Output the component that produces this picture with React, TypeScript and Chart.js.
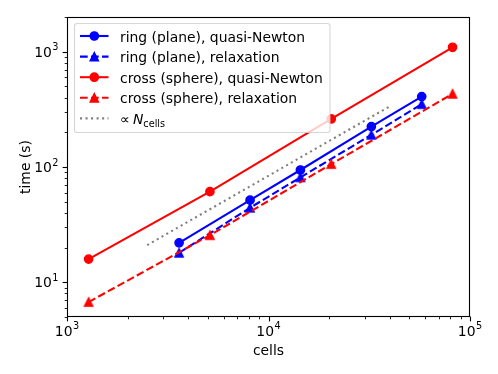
import React, { useEffect, useRef } from 'react';
import { Chart, registerables } from 'chart.js';

Chart.register(...registerables);

// ---- data ----
const ringCells = [3600, 8100, 14400, 32400, 57600];
const ringQuasiNewton = [22.0, 51.6, 94.2, 224, 408];
const ringRelaxation = [18.0, 44.3, 81.3, 190, 351];
const crossCells = [1280, 5120, 20480, 81920];
const crossQuasiNewton = [15.9, 61.1, 261, 1092];
const crossRelaxation = [6.74, 25.6, 106, 431];
const refCells = [2500, 40000];
const refTime = [21, 336];

const xLimits = [1000, 100000];
const yLimits = [5, 2000];
const xTickExponents = [3, 4, 5];
const yTickExponents = [1, 2, 3];

const legendLabels = [
  'ring (plane), quasi-Newton',
  'ring (plane), relaxation',
  'cross (sphere), quasi-Newton',
  'cross (sphere), relaxation',
];
const xTitle = 'cells';
const yTitle = 'time (s)';

const BLUE = '#0000ff';
const RED = '#ff0000';
const GRAY = '#808080';
const FONT = '"DejaVu Sans", sans-serif';
const FS = 13.9;
const LW = 2.08;
const DASH = [7.7, 3.3];
const DOT = [2.08, 3.44];
const MS = 4.15; // half marker size

function makeTriangle(color: string): HTMLCanvasElement {
  const c = document.createElement('canvas');
  c.width = 14;
  c.height = 14;
  const g = c.getContext('2d')!;
  g.fillStyle = color;
  g.strokeStyle = color;
  g.lineWidth = 1.39;
  g.lineJoin = 'miter';
  g.beginPath();
  g.moveTo(7, 7 - MS);
  g.lineTo(7 - MS, 7 + MS);
  g.lineTo(7 + MS, 7 + MS);
  g.closePath();
  g.fill();
  g.stroke();
  return c;
}

function zip(xs: number[], ys: number[]) {
  return xs.map((x, i) => ({ x, y: ys[i] }));
}

function drawPow(ctx: CanvasRenderingContext2D, exp: string, x: number, baseline: number, align: 'center' | 'right') {
  ctx.font = `${FS}px ${FONT}`;
  const wb = ctx.measureText('10').width;
  const sfs = FS * 0.7;
  ctx.font = `${sfs}px ${FONT}`;
  const ws = ctx.measureText(exp).width;
  const total = wb + ws + 0.5;
  const left = align === 'center' ? x - total / 2 : x - total;
  ctx.textAlign = 'left';
  ctx.textBaseline = 'alphabetic';
  ctx.font = `${FS}px ${FONT}`;
  ctx.fillText('10', left, baseline);
  ctx.font = `${sfs}px ${FONT}`;
  ctx.fillText(exp, left + wb + 0.5, baseline - 6.7);
}

const mplPlugin = {
  id: 'mplDecor',
  afterDatasetsDraw(chart: any) {
    const ctx: CanvasRenderingContext2D = chart.ctx;
    const a = chart.chartArea;
    const xs = chart.scales.x;
    const ys = chart.scales.y;
    ctx.save();
    // ticks
    ctx.strokeStyle = '#000';
    const L = Math.round(a.left) + 0.5;
    const R = Math.round(a.right) - 0.5;
    const T = Math.round(a.top) + 0.5;
    const B = Math.round(a.bottom) - 0.5;
    for (let d = 3; d <= 5; d++) {
      for (let k = 1; k <= 9; k++) {
        const v = k * Math.pow(10, d);
        if (v < xLimits[0] || v > xLimits[1]) continue;
        const px = Math.round(xs.getPixelForValue(v)) + 0.5;
        const major = k === 1;
        ctx.lineWidth = major ? 1.1 : 0.85;
        ctx.beginPath();
        ctx.moveTo(px, B);
        ctx.lineTo(px, B + (major ? 4.9 : 2.8));
        ctx.stroke();
      }
    }
    for (let d = 0; d <= 3; d++) {
      for (let k = 1; k <= 9; k++) {
        const v = k * Math.pow(10, d);
        if (v < yLimits[0] || v > yLimits[1]) continue;
        const py = Math.round(ys.getPixelForValue(v)) + 0.5;
        const major = k === 1;
        ctx.lineWidth = major ? 1.1 : 0.85;
        ctx.beginPath();
        ctx.moveTo(L, py);
        ctx.lineTo(L - (major ? 4.9 : 2.8), py);
        ctx.stroke();
      }
    }
    // frame
    ctx.lineWidth = 1.1;
    ctx.strokeStyle = '#000';
    ctx.strokeRect(L, T, R - L, B - T);

    // tick labels
    ctx.fillStyle = '#000';
    xTickExponents.forEach((e) => {
      const px = xs.getPixelForValue(Math.pow(10, e));
      drawPow(ctx, String(e), px, a.bottom + 18.5, 'center');
    });
    yTickExponents.forEach((e) => {
      const py = ys.getPixelForValue(Math.pow(10, e));
      drawPow(ctx, String(e), a.left - 8.5, py + 5.2, 'right');
    });

    // axis titles
    ctx.font = `${FS}px ${FONT}`;
    ctx.textAlign = 'center';
    ctx.textBaseline = 'alphabetic';
    ctx.fillText(xTitle, (a.left + a.right) / 2, 354.5);
    ctx.save();
    ctx.translate(29.5, (a.top + a.bottom) / 2);
    ctx.rotate(-Math.PI / 2);
    ctx.fillText(yTitle, 0, 0);
    ctx.restore();

    // legend
    ctx.font = `${FS}px ${FONT}`;
    let maxW = 0;
    legendLabels.forEach((t) => {
      maxW = Math.max(maxW, ctx.measureText(t).width);
    });
    const bx = 74.5;
    const by = 23.5;
    const bw = Math.max(255.5, 120 + maxW + 6 - bx);
    const bh = 109;
    const r = 2.8;
    ctx.beginPath();
    ctx.moveTo(bx + r, by);
    ctx.lineTo(bx + bw - r, by);
    ctx.quadraticCurveTo(bx + bw, by, bx + bw, by + r);
    ctx.lineTo(bx + bw, by + bh - r);
    ctx.quadraticCurveTo(bx + bw, by + bh, bx + bw - r, by + bh);
    ctx.lineTo(bx + r, by + bh);
    ctx.quadraticCurveTo(bx, by + bh, bx, by + bh - r);
    ctx.lineTo(bx, by + r);
    ctx.quadraticCurveTo(bx, by, bx + r, by);
    ctx.closePath();
    ctx.fillStyle = 'rgba(255,255,255,0.8)';
    ctx.fill();
    ctx.strokeStyle = 'rgba(204,204,204,0.8)';
    ctx.lineWidth = 1.1;
    ctx.stroke();

    const entries = [
      { color: BLUE, dash: [] as number[], marker: 'circle' },
      { color: BLUE, dash: DASH, marker: 'triangle' },
      { color: RED, dash: [] as number[], marker: 'circle' },
      { color: RED, dash: DASH, marker: 'triangle' },
      { color: GRAY, dash: DOT, marker: '' },
    ];
    entries.forEach((en, i) => {
      const y = 36 + i * 20.6;
      ctx.save();
      ctx.strokeStyle = en.color;
      ctx.lineWidth = LW;
      ctx.setLineDash(en.dash);
      ctx.beginPath();
      ctx.moveTo(80, y);
      ctx.lineTo(108.5, y);
      ctx.stroke();
      ctx.restore();
      ctx.fillStyle = en.color;
      ctx.strokeStyle = en.color;
      ctx.lineWidth = 1.39;
      if (en.marker === 'circle') {
        ctx.beginPath();
        ctx.arc(94.3, y, MS, 0, Math.PI * 2);
        ctx.fill();
        ctx.stroke();
      } else if (en.marker === 'triangle') {
        ctx.beginPath();
        ctx.moveTo(94.3, y - MS);
        ctx.lineTo(94.3 - MS, y + MS);
        ctx.lineTo(94.3 + MS, y + MS);
        ctx.closePath();
        ctx.fill();
        ctx.stroke();
      }
      ctx.fillStyle = '#000';
      ctx.textAlign = 'left';
      ctx.textBaseline = 'alphabetic';
      ctx.font = `${FS}px ${FONT}`;
      if (i < legendLabels.length) {
        ctx.fillText(legendLabels[i], 120, y + 5.5);
      } else {
        let cx = 120;
        ctx.fillText('\u221D', cx, y + 5.5);
        cx += ctx.measureText('\u221D').width + 3;
        ctx.font = `italic ${FS}px ${FONT}`;
        ctx.fillText('N', cx, y + 5.5);
        cx += ctx.measureText('N').width;
        ctx.font = `${FS * 0.7}px ${FONT}`;
        ctx.fillText('cells', cx, y + 5.5 + 2.8);
      }
    });
    ctx.restore();
  },
};

export default function App() {
  const ref = useRef<HTMLCanvasElement | null>(null);
  useEffect(() => {
    document.body.style.margin = '0';
    const blueTri = makeTriangle(BLUE);
    const redTri = makeTriangle(RED);
    const chart = new Chart(ref.current!, {
      type: 'scatter',
      data: {
        datasets: [
          {
            label: legendLabels[0],
            data: zip(ringCells, ringQuasiNewton),
            showLine: true,
            borderColor: BLUE,
            backgroundColor: BLUE,
            borderWidth: LW,
            pointStyle: 'circle',
            pointRadius: MS,
            pointBorderWidth: 1.39,
            pointBorderColor: BLUE,
            pointBackgroundColor: BLUE,
            order: 4,
          },
          {
            label: legendLabels[1],
            data: zip(ringCells, ringRelaxation),
            showLine: true,
            borderColor: BLUE,
            backgroundColor: BLUE,
            borderWidth: LW,
            borderDash: DASH,
            pointStyle: blueTri,
            order: 3,
          },
          {
            label: legendLabels[2],
            data: zip(crossCells, crossQuasiNewton),
            showLine: true,
            borderColor: RED,
            backgroundColor: RED,
            borderWidth: LW,
            pointStyle: 'circle',
            pointRadius: MS,
            pointBorderWidth: 1.39,
            pointBorderColor: RED,
            pointBackgroundColor: RED,
            order: 2,
          },
          {
            label: legendLabels[3],
            data: zip(crossCells, crossRelaxation),
            showLine: true,
            borderColor: RED,
            backgroundColor: RED,
            borderWidth: LW,
            borderDash: DASH,
            pointStyle: redTri,
            order: 1,
          },
          {
            label: '\u221D N_cells',
            data: zip(refCells, refTime),
            showLine: true,
            borderColor: GRAY,
            backgroundColor: GRAY,
            borderWidth: LW,
            borderDash: DOT,
            pointRadius: 0,
            order: 0,
          },
        ],
      },
      options: {
        responsive: false,
        animation: false,
        devicePixelRatio: 1,
        layout: { padding: { left: 67, right: 28, top: 17, bottom: 57 } },
        plugins: { legend: { display: false }, tooltip: { enabled: false } },
        scales: {
          x: { type: 'logarithmic', min: xLimits[0], max: xLimits[1], display: false },
          y: { type: 'logarithmic', min: yLimits[0], max: yLimits[1], display: false },
        },
      },
      plugins: [mplPlugin],
    });
    return () => chart.destroy();
  }, []);
  return (
    <div style={{ position: 'fixed', left: 0, top: 0, width: 498, height: 374, background: '#fff' }}>
      <canvas ref={ref} width={498} height={374} style={{ width: 498, height: 374, display: 'block' }} />
    </div>
  );
}
